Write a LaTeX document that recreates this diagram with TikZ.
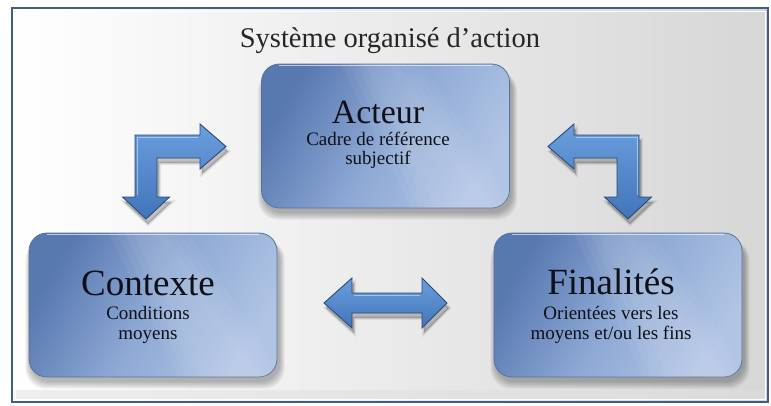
\documentclass[tikz,border=0pt]{standalone}
\usepackage{fontspec}
\setmainfont{Liberation Serif}
\definecolor{frameblue}{HTML}{3F5E86}
\definecolor{boxdark}{HTML}{5878B0}
\definecolor{boxmid}{HTML}{8EA9D5}
\definecolor{boxlight}{HTML}{B0C4E4}
\definecolor{boxedge}{HTML}{55739F}
\definecolor{arrowtop}{HTML}{6A9EDD}
\definecolor{arrowbot}{HTML}{4175BA}
\definecolor{arrowedge}{HTML}{2A4A76}
\definecolor{txt}{HTML}{0F1018}
\tikzset{
  boxnode/.style={rounded corners=18pt, draw=boxedge, line width=0.8pt,
    left color=boxdark, right color=boxlight, middle color=boxmid, shading angle=60,
    minimum width=248pt, minimum height=144pt, inner sep=0pt},
  bigtxt/.style={anchor=base, text=txt, inner sep=0pt, font=\fontsize{34}{36}\selectfont},
  subtxt/.style={anchor=base, text=txt, inner sep=0pt, font=\fontsize{19}{21}\selectfont},
  blockarrow/.style={top color=arrowtop, bottom color=arrowbot, draw=arrowedge, line width=0.9pt, line join=miter},
  softshadow/.style={fill=black, opacity=0.045}
}
\begin{document}
\begin{tikzpicture}[x=1pt,y=-1pt]
\useasboundingbox (0,0) rectangle (771,405);
\fill[white] (0,0) rectangle (771,405);
% background panel
\shade[left color=white, middle color=gray!7, right color=gray!32] (12,8) rectangle (768,402);
\fill[gray!25, opacity=0.5] (14,390) rectangle (766,400);
\draw[frameblue, line width=2.6pt] (12,8) rectangle (768,402);
\draw[white, line width=0.8pt] (15,11) rectangle (765,399);

% title
\node[anchor=base, text=black!85, inner sep=0pt, font=\fontsize{28.5}{30}\selectfont] (title) at (390,47) {Système organisé d’action};

% boxes positions
\coordinate (pa) at (385.5,136);
\coordinate (pc) at (153,305);
\coordinate (pf) at (618,305);

% soft shadows
\foreach \p in {pa,pc,pf}{
  \foreach \i in {1,...,7}{
    \fill[softshadow, rounded corners=20pt] ([shift={(-124-\i*0.8+2,-72+7)}]\p) rectangle ([shift={(124+\i*0.8+2,72+\i*1.1+4)}]\p);
  }
}

\node[boxnode] (acteur) at (pa) {};
\node[boxnode] (contexte) at (pc) {};
\node[boxnode] (finalites) at (pf) {};

% gloss: soft diagonal sheen and top highlight
\foreach \n in {acteur,contexte,finalites}{
  \begin{scope}
    \clip[rounded corners=18pt] (\n.north west) rectangle (\n.south east);
    \foreach \w in {0,8,16,24}{
      \fill[white, opacity=0.045] ([shift={(80+\w,0)}]\n.north west) -- ([shift={(160-\w,0)}]\n.north west) -- ([shift={(255-\w,144)}]\n.north west) -- ([shift={(150+\w,144)}]\n.north west) -- cycle;
    }
  \end{scope}
  \draw[white, opacity=0.6, line width=1.2pt] ([shift={(18,2)}]\n.north west) -- ([shift={(-18,2)}]\n.north east);
}

% texts
\node[bigtxt, font=\fontsize{34}{36}\selectfont] (acteurT) at (378,123) {Acteur};
\node[subtxt] (acteur1) at (378,145) {Cadre de référence};
\node[subtxt] (acteur2) at (378,164) {subjectif};

\node[bigtxt, font=\fontsize{37}{40}\selectfont] (contexteT) at (148,295) {Contexte};
\node[subtxt] (contexte1) at (148,319) {Conditions};
\node[subtxt] (contexte2) at (148,339) {moyens};

\node[bigtxt, font=\fontsize{37}{40}\selectfont] (finalitesT) at (611,294) {Finalités};
\node[subtxt] (finalites1) at (611,319) {Orientées vers les};
\node[subtxt] (finalites2) at (611,339) {moyens et/ou les fins};

% block arrows: shadows
\begin{scope}[shift={(2,5)}]
\foreach \i in {1,...,4}{
\fill[black, opacity=0.06, line width=\i pt, draw=black, draw opacity=0.04]
  (135,135) -- (200,135) -- (200,124) -- (226,146.5) -- (200,169) -- (200,158) -- (157,158) -- (157,197) -- (169.5,197) -- (146,219) -- (122.5,197) -- (135,197) -- cycle;
\fill[black, opacity=0.06, line width=\i pt, draw=black, draw opacity=0.04]
  (639,135) -- (574,135) -- (574,124) -- (548,146.5) -- (574,169) -- (574,158) -- (617,158) -- (617,197) -- (604.5,197) -- (628,219) -- (651.5,197) -- (639,197) -- cycle;
\fill[black, opacity=0.06, line width=\i pt, draw=black, draw opacity=0.04]
  (324,303) -- (352,278) -- (352,293) -- (422,293) -- (422,278) -- (447,303) -- (422,328) -- (422,313) -- (352,313) -- (352,328) -- cycle;
}
\end{scope}

% left bent arrow (Contexte <-> Acteur)
\path[blockarrow] (135,135) -- (200,135) -- (200,124) -- (226,146.5) -- (200,169) -- (200,158) -- (157,158) -- (157,197) -- (169.5,197) -- (146,219) -- (122.5,197) -- (135,197) -- cycle;
% right bent arrow (Acteur <-> Finalites)
\path[blockarrow] (639,135) -- (574,135) -- (574,124) -- (548,146.5) -- (574,169) -- (574,158) -- (617,158) -- (617,197) -- (604.5,197) -- (628,219) -- (651.5,197) -- (639,197) -- cycle;
% double arrow (Contexte <-> Finalites)
\path[blockarrow] (324,303) -- (352,278) -- (352,293) -- (422,293) -- (422,278) -- (447,303) -- (422,328) -- (422,313) -- (352,313) -- (352,328) -- cycle;
% bevel highlights
\draw[white, opacity=0.45, line width=0.8pt] (137,195) -- (137,137) -- (198,137);
\draw[white, opacity=0.45, line width=0.8pt] (576,137) -- (637,137) -- (637,195);
\draw[white, opacity=0.45, line width=0.8pt] (354,295) -- (420,295);
\end{tikzpicture}
\end{document}
